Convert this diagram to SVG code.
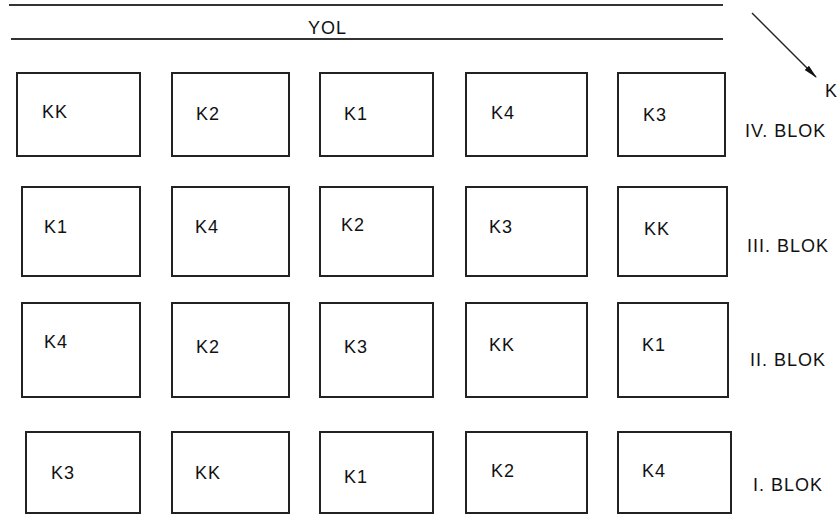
<svg xmlns="http://www.w3.org/2000/svg" width="840" height="515" viewBox="0 0 840 515">
<style>
.plot{fill:#fff;stroke:#222;stroke-width:2}
.road{stroke:#333;stroke-width:2}
text{font-family:"Liberation Sans",Arial,sans-serif;font-size:18px;letter-spacing:1px;fill:#111}
</style>
<defs>
<marker id="ah" markerWidth="14" markerHeight="8" refX="13" refY="4" orient="auto" markerUnits="userSpaceOnUse">
<path d="M0,1 L14,4 L0,7 Z" fill="#111"/>
</marker>
</defs>
<rect width="840" height="515" fill="#fff"/>
<g id="road">
<line class="road" x1="9" y1="5" x2="723" y2="5"/>
<line class="road" x1="11" y1="39" x2="723" y2="39"/>
<text x="308" y="34">YOL</text>
</g>
<g id="connectors">
<line x1="752" y1="13" x2="816" y2="77" stroke="#222" stroke-width="1.5" marker-end="url(#ah)"/>
</g>
<text x="825" y="97">K</text>
<!-- IV. BLOK -->
<g id="r4c1"><rect class="plot" x="17" y="73" width="123" height="83"/><text x="42" y="118">KK</text></g>
<g id="r4c2"><rect class="plot" x="172" y="73" width="117" height="83"/><text x="196" y="120">K2</text></g>
<g id="r4c3"><rect class="plot" x="320" y="73" width="113" height="83"/><text x="344" y="120">K1</text></g>
<g id="r4c4"><rect class="plot" x="466" y="73" width="121" height="83"/><text x="491" y="119">K4</text></g>
<g id="r4c5"><rect class="plot" x="618" y="73" width="107" height="83"/><text x="643" y="121">K3</text></g>
<text x="745" y="137">IV. BLOK</text>
<!-- III. BLOK -->
<g id="r3c1"><rect class="plot" x="22" y="187" width="118" height="89"/><text x="44" y="233">K1</text></g>
<g id="r3c2"><rect class="plot" x="172" y="187" width="117" height="89"/><text x="195" y="233">K4</text></g>
<g id="r3c3"><rect class="plot" x="320" y="187" width="113" height="89"/><text x="341" y="231">K2</text></g>
<g id="r3c4"><rect class="plot" x="466" y="187" width="121" height="89"/><text x="489" y="233">K3</text></g>
<g id="r3c5"><rect class="plot" x="618" y="187" width="109" height="89"/><text x="644" y="235">KK</text></g>
<text x="747" y="252">III. BLOK</text>
<!-- II. BLOK -->
<g id="r2c1"><rect class="plot" x="22" y="303" width="118" height="94"/><text x="44" y="348">K4</text></g>
<g id="r2c2"><rect class="plot" x="172" y="303" width="117" height="94"/><text x="196" y="353">K2</text></g>
<g id="r2c3"><rect class="plot" x="320" y="303" width="113" height="94"/><text x="344" y="353">K3</text></g>
<g id="r2c4"><rect class="plot" x="466" y="303" width="121" height="94"/><text x="489" y="351">KK</text></g>
<g id="r2c5"><rect class="plot" x="618" y="303" width="110" height="94"/><text x="642" y="351">K1</text></g>
<text x="750" y="366">II. BLOK</text>
<!-- I. BLOK -->
<g id="r1c1"><rect class="plot" x="26" y="432" width="114" height="81"/><text x="51" y="479">K3</text></g>
<g id="r1c2"><rect class="plot" x="172" y="432" width="117" height="81"/><text x="195" y="479">KK</text></g>
<g id="r1c3"><rect class="plot" x="320" y="432" width="113" height="81"/><text x="344" y="483">K1</text></g>
<g id="r1c4"><rect class="plot" x="466" y="432" width="121" height="81"/><text x="491" y="477">K2</text></g>
<g id="r1c5"><rect class="plot" x="618" y="432" width="113" height="81"/><text x="642" y="477">K4</text></g>
<text x="753" y="491">I. BLOK</text>
</svg>
